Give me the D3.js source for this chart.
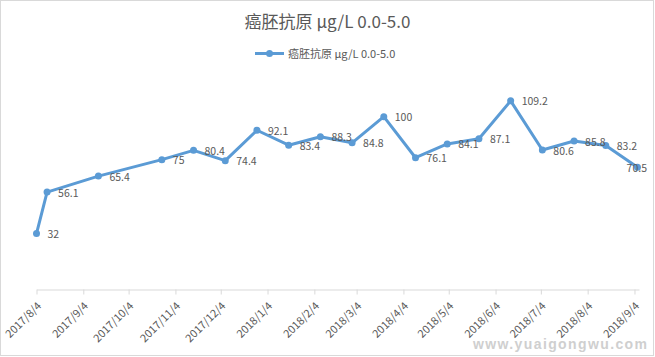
<!DOCTYPE html>
<html><head><meta charset="utf-8">
<script src="https://cdn.jsdelivr.net/npm/d3@7"></script>
<style>body{margin:0;background:#fff}svg{display:block}</style>
</head><body>
<script>
const title = "癌胚抗原 μg/L 0.0-5.0";
const seriesName = "癌胚抗原 μg/L 0.0-5.0";
const dates = ["2017-08-04","2017-08-11","2017-09-14","2017-10-26","2017-11-16","2017-12-07","2017-12-28","2018-01-18","2018-02-08","2018-03-01","2018-03-22","2018-04-12","2018-05-03","2018-05-24","2018-06-14","2018-07-05","2018-07-26","2018-08-16","2018-09-06"];
const values = [32,56.1,65.4,75,80.4,74.4,92.1,83.4,88.3,84.8,100,76.1,84.1,87.1,109.2,80.6,85.8,83.2,70.5];
const tickLabels = ["2017/8/4","2017/9/4","2017/10/4","2017/11/4","2017/12/4","2018/1/4","2018/2/4","2018/3/4","2018/4/4","2018/5/4","2018/6/4","2018/7/4","2018/8/4","2018/9/4"];

const W = 655, H = 357;
const color = "#5b9bd5", textColor = "#595959";
const font = "'Noto Sans CJK SC','Noto Sans',sans-serif";
const parse = d3.utcParse("%Y-%m-%d");
const parseTick = d3.utcParse("%Y/%m/%d");

const svg = d3.select("body").append("svg").attr("width", W).attr("height", H);
svg.append("rect").attr("x",0.5).attr("y",0.5).attr("width",653).attr("height",355)
  .attr("fill","#fff").attr("stroke","#d9d9d9");

const x = d3.scaleUtc().domain([parse("2017-08-04"), parse("2018-09-07")]).range([36.5, 639]);
const y = d3.scaleLinear().domain([0,120]).range([288.5, 82.3]);

svg.append("text").attr("x",327.5).attr("y",28).attr("text-anchor","middle")
  .attr("font-family",font).attr("font-size",17).attr("fill",textColor).text(title);

// legend
const lg = svg.append("g");
lg.append("line").attr("x1",255).attr("x2",284).attr("y1",53.5).attr("y2",53.5)
  .attr("stroke",color).attr("stroke-width",3);
lg.append("circle").attr("cx",269.5).attr("cy",53.5).attr("r",3.5).attr("fill",color);
lg.append("text").attr("x",288).attr("y",57.5).attr("font-family",font).attr("font-size",11)
  .attr("fill",textColor).text(seriesName);

// x axis
const ticks = tickLabels.map(parseTick);
const axis = d3.axisBottom(x).tickValues(ticks).tickSize(5).tickSizeOuter(0)
  .tickFormat((d,i)=>tickLabels[i]);
const ax = svg.append("g").attr("transform","translate(0,289.5)").call(axis);
ax.select(".domain").attr("stroke","#d9d9d9");
ax.selectAll(".tick line").attr("stroke","#d9d9d9");
ax.selectAll(".tick text").attr("font-family",font).attr("font-size",11).attr("fill",textColor)
  .attr("text-anchor","end").attr("dy",null).attr("y",0)
  .attr("transform","translate(3,15) rotate(-45)").attr("dominant-baseline","middle");

// line
const pts = dates.map((d,i)=>({d:parse(d), v:values[i]}));
svg.append("path").datum(pts).attr("fill","none").attr("stroke",color).attr("stroke-width",3)
  .attr("stroke-linejoin","round")
  .attr("d", d3.line().x(p=>x(p.d)).y(p=>y(p.v)));
svg.selectAll("circle.pt").data(pts).join("circle").attr("class","pt")
  .attr("cx",p=>x(p.d)).attr("cy",p=>y(p.v)).attr("r",3.5).attr("fill",color);

// data labels
svg.selectAll("text.lbl").data(pts).join("text").attr("class","lbl")
  .attr("font-family",font).attr("font-size",10.5).attr("fill",textColor)
  .attr("y",p=>y(p.v)).attr("dominant-baseline","central")
  .text(p=>String(p.v))
  .each(function(p){
    const w = this.getComputedTextLength();
    let lx = x(p.d) + 11;
    if (lx + w > 647) lx = 647 - w;
    d3.select(this).attr("x", lx);
  });

// watermark
svg.append("text").attr("x",473).attr("y",349).attr("font-family","'Liberation Sans',Arial,sans-serif")
  .attr("font-weight","bold").attr("font-size",14).attr("fill","#cfcfcf")
  .attr("textLength",174).attr("lengthAdjust","spacing").text("www.yuaigongwu.com");
</script>
</body></html>
